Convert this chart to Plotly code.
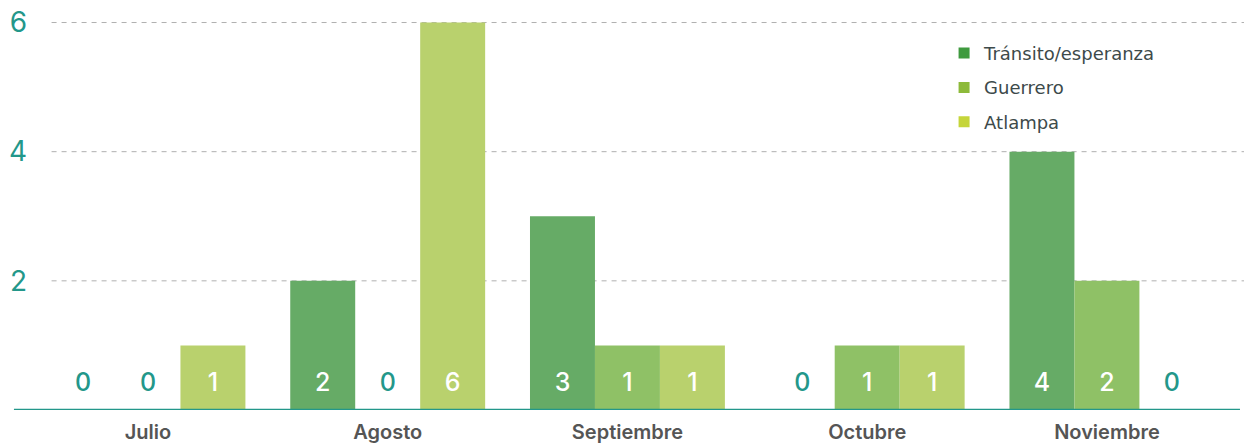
import plotly.graph_objects as go

# ---- data ----
months = ["Julio", "Agosto", "Septiembre", "Octubre", "Noviembre"]
series_names = ["Tránsito/esperanza", "Guerrero", "Atlampa"]
transito = [0, 2, 3, 0, 4]
guerrero = [0, 0, 1, 1, 2]
atlampa = [1, 6, 1, 1, 0]
y_ticks = [2, 4, 6]

# ---- styles ----
bar_colors = ["#66ab66", "#8fc166", "#b9d16d"]
legend_colors = ["#3f9a3f", "#8dba3a", "#c5d53a"]
teal = "#23978a"
bar_w = 0.271
offsets = [-bar_w, 0.0, bar_w]

series = [transito, guerrero, atlampa]

fig = go.Figure()
lab_x, lab_y, lab_t, lab_c = [], [], [], []
for s, (vals, name) in enumerate(zip(series, series_names)):
    xs = [i + offsets[s] for i in range(len(months))]
    fig.add_trace(go.Bar(
        x=xs, y=vals, width=bar_w, name=name,
        marker=dict(color=bar_colors[s], line=dict(width=0)),
        showlegend=False, hoverinfo="skip"))
    for x, v in zip(xs, vals):
        lab_x.append(x)
        lab_y.append(0.39)
        lab_t.append(str(v))
        lab_c.append("white" if v > 0 else teal)

fig.add_trace(go.Scatter(
    x=lab_x, y=lab_y, text=lab_t, mode="text",
    textfont=dict(family="Inter", size=25, color=lab_c, weight=500),
    textposition="middle center", showlegend=False, hoverinfo="skip"))

for s, name in enumerate(series_names):
    fig.add_trace(go.Scatter(
        x=[None], y=[None], mode="markers", name=name,
        legendgroup=name,
        marker=dict(symbol="square", size=11, color=legend_colors[s])))

shapes = []
for v in y_ticks:
    shapes.append(dict(type="line", xref="paper", yref="y", x0=0.018, x1=1.02,
                       y0=v, y1=v, layer="below",
                       line=dict(color="#b0b0b0", width=1, dash="5px,5px")))
shapes.append(dict(type="line", xref="paper", yref="y", x0=-0.0134, x1=1.01,
                   y0=0, y1=0, layer="above", line=dict(color=teal, width=2.5)))

fig.update_layout(
    width=1244, height=443,
    margin=dict(l=30, r=16, t=18, b=33, autoexpand=False),
    plot_bgcolor="white", paper_bgcolor="white",
    barmode="overlay",
    shapes=shapes,
    xaxis=dict(range=[-0.492, 4.505], tickvals=list(range(len(months))),
               ticktext=months, showgrid=False, zeroline=False, showline=False,
               ticks="", ticklabelstandoff=8, automargin=False,
               tickfont=dict(family="Inter", size=20, color="#555555", weight=600)),
    yaxis=dict(range=[0, 6.07], tickvals=y_ticks, showgrid=False, zeroline=False,
               showline=False, ticks="", ticklabelstandoff=2, automargin=False,
               tickfont=dict(family="Inter", size=28, color=teal)),
    legend=dict(x=0.763, y=0.957, xanchor="left", yanchor="top",
                bgcolor="rgba(0,0,0,0)", traceorder="grouped", tracegroupgap=8,
                itemwidth=30,
                font=dict(family="DejaVu Sans", size=18, color="#3d4a4a")),
)

fig.write_html("out.html", config={"displayModeBar": False},
               post_script="document.body.style.margin='0';")
